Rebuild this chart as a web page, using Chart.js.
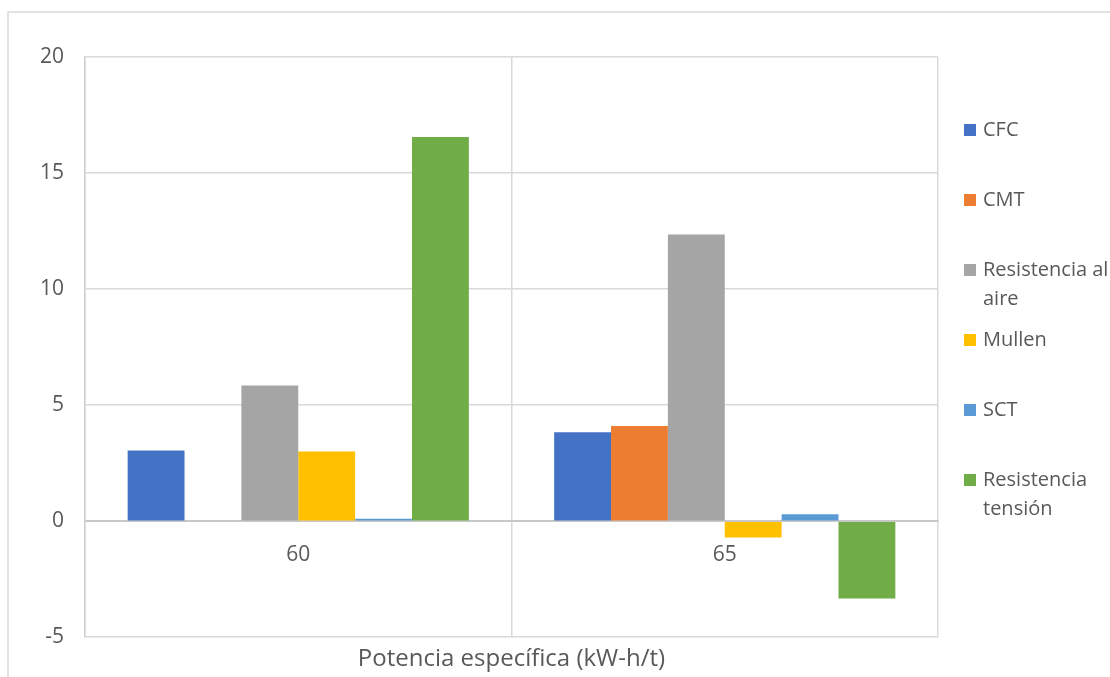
<!DOCTYPE html>
<html>
<head>
<meta charset="utf-8">
<script src="https://cdn.jsdelivr.net/npm/chart.js@4"></script>
<style>
  html, body { margin: 0; padding: 0; background: #ffffff; }
  #wrap { width: 1110px; height: 677px; position: relative; }
</style>
</head>
<body>
<div id="wrap"><canvas id="chart"></canvas></div>
<script>
// Categories on the x axis (specific power, kW-h/t)
const categories = ['60', '65'];

// Series names and how they wrap in the legend
const seriesNames = ['CFC', 'CMT', 'Resistencia al aire', 'Mullen', 'SCT', 'Resistencia tensión'];
const legendLines = [['CFC'], ['CMT'], ['Resistencia al', 'aire'], ['Mullen'], ['SCT'], ['Resistencia', 'tensión']];

// Series values, one entry per category
const cfc = [3.05, 3.83];
const cmt = [0, 4.1];
const resistenciaAire = [5.85, 12.35];
const mullen = [3.0, -0.7];
const sct = [0.1, 0.3];
const resistenciaTension = [16.55, -3.33];

// Value axis ticks
const yTicks = [-5, 0, 5, 10, 15, 20];

const seriesValues = [cfc, cmt, resistenciaAire, mullen, sct, resistenciaTension];
const seriesColors = ['#4472C4', '#ED7D31', '#A5A5A5', '#FFC000', '#5B9BD5', '#70AD47'];

const FONT = 'Open Sans';
const TEXT = '#595959';
const GRID = '#d9d9d9';

// Outer chart frame and white background
const framePlugin = {
  id: 'frame',
  beforeDraw(chart) {
    const ctx = chart.ctx;
    ctx.save();
    ctx.fillStyle = '#ffffff';
    ctx.fillRect(0, 0, chart.width, chart.height);
    ctx.strokeStyle = GRID;
    ctx.lineWidth = 1.5;
    ctx.strokeRect(8, 12, chart.width + 20, chart.height + 20);
    ctx.restore();
  }
};

// Legend on the right with wrapped entries
const sideLegend = {
  id: 'sideLegend',
  afterDraw(chart) {
    const ctx = chart.ctx;
    const area = chart.chartArea;
    const boxX = area.right + 26;
    const textX = boxX + 19;
    const firstY = 130;
    const itemStep = 70;
    const lineStep = 29;
    ctx.save();
    ctx.font = '20px "' + FONT + '"';
    ctx.textBaseline = 'middle';
    ctx.textAlign = 'left';
    chart.data.datasets.forEach((ds, i) => {
      const cy = firstY + i * itemStep;
      ctx.fillStyle = ds.backgroundColor;
      ctx.fillRect(boxX, cy - 6, 12, 12);
      ctx.fillStyle = TEXT;
      legendLines[i].forEach((line, j) => {
        ctx.fillText(line, textX, cy + j * lineStep);
      });
    });
    ctx.restore();
  }
};

const datasets = seriesNames.map((name, i) => ({
  label: name,
  data: seriesValues[i],
  backgroundColor: seriesColors[i],
  borderWidth: 0,
  categoryPercentage: 0.8,
  barPercentage: 1.0
}));

new Chart(document.getElementById('chart'), {
  type: 'bar',
  data: { labels: categories, datasets },
  plugins: [framePlugin, sideLegend],
  options: {
    responsive: true,
    maintainAspectRatio: false,
    animation: false,
    layout: { padding: { top: 57, right: 172, left: 0, bottom: 0 } },
    plugins: {
      legend: { display: false },
      tooltip: { enabled: false },
      title: {
        display: true,
        position: 'bottom',
        fullSize: false,
        text: 'Potencia específica (kW-h/t)',
        color: TEXT,
        font: { family: FONT, size: 24, weight: 'normal' },
        padding: { top: 8, bottom: 3 }
      }
    },
    scales: {
      x: {
        position: { y: 0 },
        grid: { color: GRID, lineWidth: 1.5, offset: true, drawTicks: false },
        border: { color: '#c8c8c8', width: 2 },
        ticks: { color: TEXT, padding: 21, font: { family: FONT, size: 21 } }
      },
      y: {
        min: yTicks[0],
        max: yTicks[yTicks.length - 1],
        afterFit(scale) { scale.width = 85; },
        afterBuildTicks(scale) { scale.ticks = yTicks.map(v => ({ value: v })); },
        grid: { color: GRID, lineWidth: 1.5, drawTicks: false },
        border: { color: '#cfcfcf', width: 1.5 },
        ticks: { color: TEXT, padding: 21, font: { family: FONT, size: 21 } }
      }
    }
  }
});
</script>
</body>
</html>
